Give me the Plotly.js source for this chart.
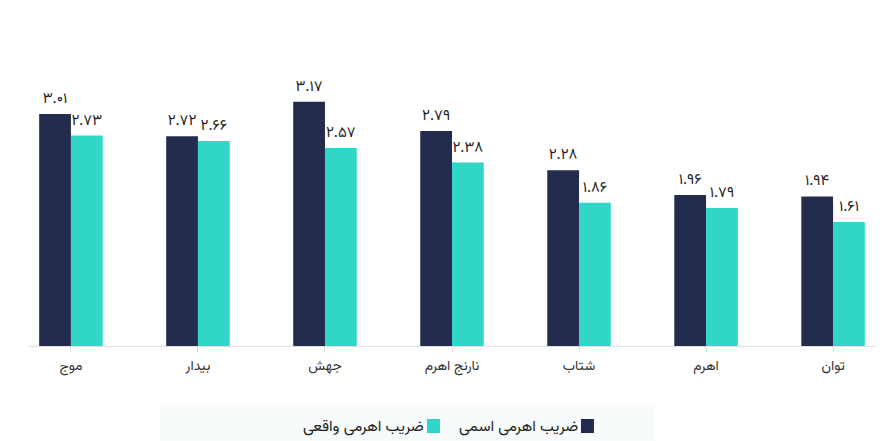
<!DOCTYPE html>
<html>
<head>
<meta charset="utf-8">
<script src="https://cdn.plot.ly/plotly-3.0.1.min.js"></script>
<style>
html,body{margin:0;padding:0;background:#fff;}
#chart{width:882px;height:441px;}
</style>
</head>
<body>
<div id="chart"></div>
<script>
const categories = ["موج", "بیدار", "جهش", "نارنج اهرم", "شتاب", "اهرم", "توان"];
const nominal = [3.01, 2.72, 3.17, 2.79, 2.28, 1.96, 1.94];
const actual = [2.73, 2.66, 2.57, 2.38, 1.86, 1.79, 1.61];
const seriesNames = ["ضریب اهرمی اسمی", "ضریب اهرمی واقعی"];
const colors = ["#232c4e", "#30d6c8"];

function fa(v) {
  const d = "۰۱۲۳۴۵۶۷۸۹";
  return v.toFixed(2).replace(/[0-9]/g, c => d[+c]);
}

const font = "Vazirmatn, 'DejaVu Sans', 'Noto Sans', sans-serif";

const traces = [nominal, actual].map((vals, i) => ({
  type: "bar",
  x: categories,
  y: vals,
  name: seriesNames[i],
  marker: {color: colors[i]},
  text: vals.map(fa),
  textposition: "outside",
  cliponaxis: false,
  textfont: {family: font, size: 15, color: "#222"},
  hoverinfo: "none"
}));

const layout = {
  width: 882,
  height: 441,
  margin: {l: 29, r: 7, t: 20, b: 95},
  paper_bgcolor: "#fff",
  plot_bgcolor: "#fff",
  barmode: "group",
  bargap: 0.5,
  bargroupgap: 0,
  showlegend: false,
  font: {family: font, color: "#333"},
  xaxis: {
    type: "category",
    range: [-0.33, 6.33],
    showline: true,
    linecolor: "#e0e0e0",
    linewidth: 1,
    ticks: "outside",
    ticklen: 6,
    tickcolor: "#e0e0e0",
    tickfont: {family: font, size: 14, color: "#333"},
    showgrid: false,
    zeroline: false
  },
  yaxis: {
    range: [0, 4.23],
    showgrid: false,
    zeroline: false,
    showticklabels: false,
    showline: false
  },
  shapes: [
    {type: "rect", xref: "paper", yref: "paper", x0: 0.155, x1: 0.74, y0: -0.181, y1: -0.291,
     fillcolor: "#f7fbfb", line: {width: 0}, layer: "below"},
    {type: "rect", xref: "paper", yref: "paper", x0: 0.6525, x1: 0.6678, y0: -0.224, y1: -0.267,
     fillcolor: colors[0], line: {width: 0}},
    {type: "rect", xref: "paper", yref: "paper", x0: 0.4704, x1: 0.4858, y0: -0.224, y1: -0.267,
     fillcolor: colors[1], line: {width: 0}}
  ],
  annotations: [
    {xref: "paper", yref: "paper", x: 0.651, y: -0.247, xanchor: "right", yanchor: "middle",
     text: seriesNames[0], showarrow: false, font: {family: font, size: 15.5, color: "#222"}},
    {xref: "paper", yref: "paper", x: 0.469, y: -0.247, xanchor: "right", yanchor: "middle",
     text: seriesNames[1], showarrow: false, font: {family: font, size: 15.5, color: "#222"}}
  ]
};

Plotly.newPlot("chart", traces, layout, {displayModeBar: false, staticPlot: true});
</script>
</body>
</html>
